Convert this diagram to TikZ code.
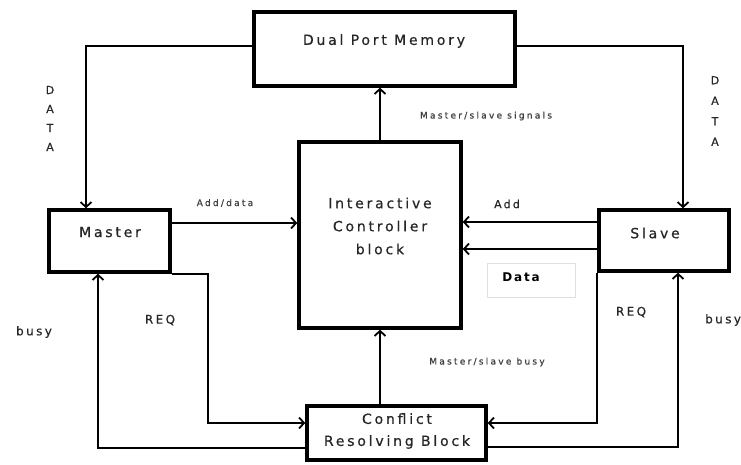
\documentclass[tikz,border=0pt]{standalone}
\usepackage{fontspec}
\setmainfont{DejaVu Sans}
\newfontfamily\widefont{DejaVu Sans}[LetterSpace=20,FakeBold=0.6]
\newfontfamily\smallfont{DejaVu Sans}[LetterSpace=25,FakeBold=0.8]
\newfontfamily\boldwide{DejaVu Sans Bold}[LetterSpace=15]
\usetikzlibrary{arrows.meta}
\begin{document}
\begin{tikzpicture}[x=1pt,y=-1pt,
  blk/.style={draw,line width=3.5pt,inner sep=0pt},
  txt/.style={inner sep=0pt,align=center,text=black!85},
  big/.style={txt,font=\widefont\fontsize{14}{23}\selectfont},
  small/.style={txt,font=\smallfont\fontsize{9}{10}\selectfont,text=black!75},
  mid/.style={txt,font=\widefont\fontsize{12}{19}\selectfont},
  conn/.style={line width=2.2pt,-{Straight Barb[length=5pt,width=11pt,line width=1.8pt]}},
  thinconn/.style={conn,line width=1.5pt}
]
\useasboundingbox (0,0) rectangle (741,464);
% boxes
\node[blk,minimum width=261pt,minimum height=74pt] (DPM) at (384.5,49) {};
\node[blk,minimum width=121pt,minimum height=62pt] (Master) at (109.5,241) {};
\node[blk,minimum width=162pt,minimum height=186pt] (Ctrl) at (380,235) {};
\node[blk,minimum width=130pt,minimum height=61pt] (Slave) at (664,240.5) {};
\node[blk,minimum width=179pt,minimum height=54pt] (Conf) at (396.5,433) {};
% box texts
\node[big] (DPMt) at (384,41) {Dual Port Memory};
\node[big] (Mastert) at (110,232) {Master};
\node[big] (Ctrlt) at (380,226) {Interactive\\Controller\\block};
\node[big,font=\widefont\fontsize{14}{22}\selectfont] (Conft) at (397,431) {Conflict\\Resolving Block};
\node[big] (Slavet) at (655,233) {Slave};
% connectors
\draw[thinconn] ([yshift=3pt]DPM.west) -| ([xshift=-23.5pt]Master.north);
\draw[thinconn] ([yshift=3pt]DPM.east) -| ([xshift=19pt]Slave.north);
\draw[conn] (Ctrl.north) -- (Ctrl.north |- DPM.south);
\draw[thinconn] ([yshift=18pt]Master.east) -- ([yshift=18pt]Master.east -| Ctrl.west);
\draw[conn] ([yshift=18.5pt]Slave.west) -- ([yshift=18.5pt]Slave.west -| Ctrl.east);
\draw[conn] ([yshift=-8.5pt]Slave.west) -- ([yshift=-8.5pt]Slave.west -| Ctrl.east);
\draw[conn] (Conf.north -| Ctrl.south) -- (Ctrl.south);
\draw[conn] (Master.south east) -- ++(36,0) |- ([yshift=10pt]Conf.west);
\draw[conn] ([yshift=-15pt]Conf.west) -| ([xshift=-11.5pt]Master.south);
\draw[conn] (Slave.south west) |- ([yshift=10pt]Conf.east);
\draw[conn] ([yshift=-14pt]Conf.east) -| ([xshift=14pt]Slave.south);
% labels
\node[small] (l1) at (486,116) {Master/slave signals};
\node[small] (l2) at (487,362) {Master/slave busy};
\node[small] (l3) at (225,203) {Add/data};
\node[mid,font=\widefont\fontsize{11}{12}\selectfont] (l4) at (507,204) {Add};
\node[draw=black!12,line width=0.6pt,minimum width=88pt,minimum height=34pt,inner sep=0pt] (dbox) at (531,280) {};
\node[txt,font=\boldwide\fontsize{12}{13}\selectfont,text=black] (l5) at (521,277) {Data};
\node[mid] (l6) at (160,320) {REQ};
\node[mid] (l7) at (631,312) {REQ};
\node[mid] (l8) at (34,332) {busy};
\node[mid,anchor=west] (l9) at (705,320) {busy};
\node[mid,font=\widefont\fontsize{11}{19}\selectfont] (d1) at (50,118.5) {D\\A\\T\\A};
\node[mid,font=\widefont\fontsize{11}{20.5}\selectfont] (d2) at (715,111) {D\\A\\T\\A};
\end{tikzpicture}
\end{document}
